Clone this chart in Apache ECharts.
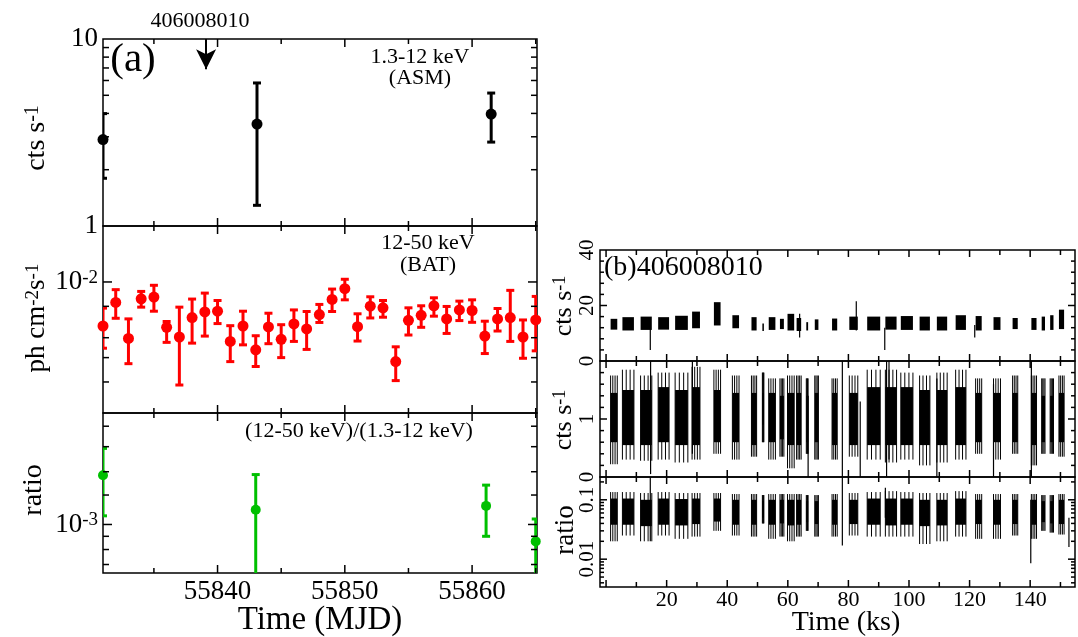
<!DOCTYPE html>
<html>
<head>
<meta charset="utf-8">
<script src="https://cdn.jsdelivr.net/npm/echarts/dist/echarts.min.js"></script>
<style>
  html, body { margin: 0; background: #fff; }
  #chart { width: 1078px; height: 637px; }
</style>
</head>
<body>
<div id="chart"></div>
<script>
// ---------- panel (a): long-term light curves ----------
const asmMjd  = [55831.0, 55843.1, 55861.5];
const asmRate = [2.90, 3.51, 3.97];
const asmLow  = [1.80, 1.29, 2.81];
const asmHigh = [3.99, 5.82, 5.14];

const batMjd  = [55831, 55832, 55833, 55834, 55835, 55836, 55837, 55838, 55839, 55840,
                 55841, 55842, 55843, 55844, 55845, 55846, 55847, 55848, 55849, 55850,
                 55851, 55852, 55853, 55854, 55855, 55856, 55857, 55858, 55859, 55860,
                 55861, 55862, 55863, 55864, 55865];
const batFlux = [0.00668, 0.00829, 0.00596, 0.00857, 0.00871, 0.00660, 0.00604, 0.00722, 0.00760, 0.00765,
                 0.00580, 0.00668, 0.00537, 0.00662, 0.00591, 0.00681, 0.00650, 0.00742, 0.00852, 0.00940,
                 0.00664, 0.00801, 0.00789, 0.00482, 0.00704, 0.00737, 0.00804, 0.00713, 0.00774, 0.00770,
                 0.00609, 0.00713, 0.00722, 0.00604, 0.00706];
const batHigh = [0.00787, 0.00932, 0.00713, 0.00917, 0.00970, 0.00696, 0.00794, 0.00855, 0.00903, 0.00844,
                 0.00670, 0.00765, 0.00611, 0.00751, 0.00676, 0.00774, 0.00763, 0.00814, 0.00937, 0.01025,
                 0.00747, 0.00873, 0.00844, 0.00552, 0.00789, 0.00804, 0.00865, 0.00799, 0.00839, 0.00849,
                 0.00698, 0.00784, 0.00926, 0.00706, 0.00876];
const batLow  = [0.00545, 0.00717, 0.00473, 0.00794, 0.00765, 0.00575, 0.00389, 0.00571, 0.00609, 0.00683,
                 0.00482, 0.00562, 0.00461, 0.00568, 0.00500, 0.00580, 0.00539, 0.00690, 0.00763, 0.00849,
                 0.00582, 0.00719, 0.00724, 0.00405, 0.00615, 0.00660, 0.00731, 0.00624, 0.00702, 0.00691,
                 0.00519, 0.00638, 0.00580, 0.00497, 0.00532];

const ratioMjd  = [55831.0, 55843.0, 55861.1, 55865.0];
const ratioVal  = [1.55e-3, 1.14e-3, 1.18e-3, 0.86e-3];
const ratioLow  = [1.08e-3, 0.40e-3, 0.90e-3, 0.40e-3];
const ratioHigh = [1.97e-3, 1.56e-3, 1.42e-3, 1.05e-3];

// tick positions
const mjdMajor   = [55840, 55850, 55860];
const mjdMinor   = [55835, 55845, 55855, 55865];
const asmMinor   = [2, 3, 4, 5, 6, 7, 8, 9];
const batMajor   = [0.01];
const batMinor   = [0.004, 0.005, 0.006, 0.008];
const ratioMajor = [0.001];
const ratioMinor = [0.0007, 0.0008, 0.0009, 0.0013, 0.0016, 0.002, 0.0024];

// ---------- panel (b): 406008010 light curve (orbit segments, ks) ----------
const segStart = [1.5, 5.4, 11.4, 17.2, 22.8, 28.4, 35.6, 41.7, 48.0, 51.6, 53.7, 57.4, 59.9, 62.9, 66.1, 68.9,
                  74.6, 80.3, 86.2, 92.2, 97.3, 103.5, 109.2, 115.4, 122.0, 127.9, 134.2, 140.4, 143.8, 146.6, 149.5];
const segEnd   = [3.7, 9.2, 15.1, 20.8, 27.0, 31.0, 37.8, 43.9, 49.7, 52.1, 55.9, 58.7, 62.1, 64.4, 66.7, 70.1,
                  76.3, 83.1, 90.5, 95.9, 101.3, 106.9, 112.6, 118.8, 124.0, 130.2, 135.9, 142.1, 144.9, 147.7, 151.2];
const rateLo   = [11.3, 11.0, 11.2, 11.3, 11.2, 11.8, 12.8, 11.8, 11.0, 10.8, 11.2, 11.5, 11.0, 10.8, 11.0, 11.2,
                  11.0, 11.2, 11.0, 11.3, 11.2, 11.0, 11.0, 11.2, 11.0, 11.2, 11.5, 11.2, 11.0, 11.2, 11.5];
const rateHi   = [15.2, 15.8, 16.0, 15.8, 16.3, 17.8, 21.2, 16.5, 15.8, 13.5, 15.8, 15.2, 17.0, 15.5, 14.0, 15.0,
                  15.3, 16.0, 16.0, 16.0, 16.2, 16.0, 16.0, 16.5, 16.2, 15.8, 15.5, 15.5, 16.0, 16.5, 18.5];
const hardLo   = [0.60, 0.55, 0.55, 0.60, 0.55, 0.55, 0.60, 0.60, 0.55, 0.90, 0.60, 0.65, 0.55, 0.55, 0.60, 0.60,
                  0.55, 0.55, 0.55, 0.55, 0.55, 0.55, 0.55, 0.55, 0.60, 0.60, 0.60, 0.55, 0.60, 0.60, 0.60];
const hardHi   = [1.45, 1.50, 1.50, 1.55, 1.50, 1.55, 1.50, 1.45, 1.45, 1.45, 1.45, 1.40, 1.45, 1.45, 1.40, 1.45,
                  1.45, 1.45, 1.55, 1.55, 1.55, 1.50, 1.50, 1.55, 1.45, 1.45, 1.45, 1.45, 1.40, 1.40, 1.45];
const hardMin  = [0.22, 0.30, 0.28, 0.30, 0.25, 0.30, 0.40, 0.30, 0.35, 0.60, 0.30, 0.35, 0.15, 0.30, 0.40, 0.30,
                  0.30, 0.35, 0.30, 0.25, 0.30, 0.20, 0.25, 0.30, 0.40, 0.30, 0.40, 0.20, 0.40, 0.40, 0.35];
const hardMax  = [1.75, 1.85, 1.75, 1.80, 1.80, 1.90, 1.85, 1.75, 1.75, 1.80, 1.70, 1.70, 1.75, 1.75, 1.70, 1.75,
                  1.70, 1.75, 1.85, 1.85, 1.80, 1.75, 1.80, 1.85, 1.70, 1.70, 1.75, 1.75, 1.70, 1.70, 1.75];
const ratioBLo = [0.038, 0.038, 0.036, 0.038, 0.037, 0.039, 0.043, 0.038, 0.038, 0.050, 0.038, 0.040, 0.037, 0.038, 0.042, 0.039,
                  0.038, 0.039, 0.038, 0.037, 0.038, 0.036, 0.037, 0.038, 0.039, 0.038, 0.039, 0.038, 0.042, 0.040, 0.039];
const ratioBHi = [0.105, 0.105, 0.100, 0.105, 0.103, 0.105, 0.105, 0.100, 0.100, 0.095, 0.100, 0.100, 0.100, 0.100, 0.095, 0.095,
                  0.100, 0.100, 0.105, 0.105, 0.105, 0.100, 0.100, 0.105, 0.100, 0.100, 0.100, 0.100, 0.095, 0.095, 0.100];
const ratioBMin = [0.020, 0.025, 0.020, 0.025, 0.022, 0.024, 0.030, 0.025, 0.024, 0.040, 0.022, 0.024, 0.020, 0.024, 0.030, 0.024,
                   0.024, 0.025, 0.024, 0.024, 0.024, 0.018, 0.020, 0.024, 0.022, 0.022, 0.025, 0.022, 0.030, 0.028, 0.026];
const ratioBMax = [0.135, 0.135, 0.130, 0.135, 0.130, 0.130, 0.130, 0.125, 0.125, 0.120, 0.125, 0.125, 0.125, 0.125, 0.120, 0.120,
                   0.125, 0.130, 0.135, 0.140, 0.135, 0.130, 0.130, 0.140, 0.125, 0.125, 0.125, 0.125, 0.120, 0.120, 0.125];

const rateSpikes  = [[14.6, 4.0, 12.0], [63.9, 8.5, 17.0], [82.6, 11.0, 21.5], [92.0, 4.0, 12.0], [121.7, 8.5, 13.0]];
const hardSpikes  = [[14.7, 0.05, 2.0], [28.5, 0.40, 2.0], [66.7, 0.0, 1.4], [78.0, 0.0, 2.0], [83.9, 0.0, 1.3],
                     [92.6, 0.0, 2.0], [93.4, 0.3, 2.0], [109.2, 0.0, 1.7], [127.9, 0.0, 1.6], [140.4, 0.0, 2.0]];
const ratioSpikes = [[14.6, 0.020, 0.24], [78.0, 0.017, 0.24], [92.2, 0.050, 0.16], [140.2, 0.0085, 0.10], [152.8, 0.016, 0.05]];

const ksMajor     = [0, 20, 40, 60, 80, 100, 120, 140];
const ksMinor     = [10, 30, 50, 70, 90, 110, 130, 150];
const rateMajor   = [20];
const rateMinor   = [4, 8, 12, 16, 24, 28, 32, 36];
const hardMajor   = [1];
const hardMinor   = [0.2, 0.4, 0.6, 0.8, 1.2, 1.4, 1.6, 1.8];
const ratioBMajor = [0.01, 0.1];
const ratioBMinor = [0.004, 0.005, 0.006, 0.007, 0.008, 0.009, 0.02, 0.03, 0.04, 0.05, 0.06, 0.07, 0.08, 0.09, 0.2];

const FONT = 'Liberation Serif';

// ---------- helpers ----------
function isPow10(v) {
  const l = Math.log10(v);
  return Math.abs(l - Math.round(l)) < 1e-6;
}
function powLabel(v) {
  return isPow10(v) ? '{b|10}{s|' + Math.round(Math.log10(v)) + '}' : '';
}
const powRich = {
  b: { fontFamily: FONT, fontSize: 27, color: '#000', verticalAlign: 'bottom' },
  s: { fontFamily: FONT, fontSize: 19, color: '#000', verticalAlign: 'top' }
};

function errorBar(color, width, cap) {
  return function (params, api) {
    const top = api.coord([api.value(0), api.value(2)]);
    const bot = api.coord([api.value(0), api.value(1)]);
    const x = top[0];
    const st = { stroke: color, lineWidth: width };
    return {
      type: 'group',
      children: [
        { type: 'line', shape: { x1: x, y1: top[1], x2: x, y2: bot[1] }, style: st },
        { type: 'line', shape: { x1: x - cap, y1: top[1], x2: x + cap, y2: top[1] }, style: st },
        { type: 'line', shape: { x1: x - cap, y1: bot[1], x2: x + cap, y2: bot[1] }, style: st }
      ]
    };
  };
}

// inward ticks: data [value, axisMinOfOther, axisMaxOfOther]
function xTicks(len) {
  return function (params, api) {
    const b = api.coord([api.value(0), api.value(1)]);
    const t = api.coord([api.value(0), api.value(2)]);
    const st = { stroke: '#000', lineWidth: 1.5 };
    return { type: 'group', children: [
      { type: 'line', shape: { x1: b[0], y1: b[1], x2: b[0], y2: b[1] - len }, style: st },
      { type: 'line', shape: { x1: t[0], y1: t[1], x2: t[0], y2: t[1] + len }, style: st }
    ] };
  };
}
function yTicks(len) {
  return function (params, api) {
    const l = api.coord([api.value(1), api.value(0)]);
    const r = api.coord([api.value(2), api.value(0)]);
    const st = { stroke: '#000', lineWidth: 1.5 };
    return { type: 'group', children: [
      { type: 'line', shape: { x1: l[0], y1: l[1], x2: l[0] + len, y2: l[1] }, style: st },
      { type: 'line', shape: { x1: r[0], y1: r[1], x2: r[0] - len, y2: r[1] }, style: st }
    ] };
  };
}

function bandRect(params, api) {
  const a = api.coord([api.value(0), api.value(3)]);
  const b = api.coord([api.value(1), api.value(2)]);
  return {
    type: 'rect',
    shape: { x: a[0], y: a[1], width: Math.max(b[0] - a[0], 1.5), height: b[1] - a[1] },
    style: { fill: '#000' }
  };
}
// thin full-range strokes spread across each orbit segment
function bandWhisk(params, api) {
  const t0 = api.value(0), t1 = api.value(1), lo = api.value(2), hi = api.value(3);
  const st = { stroke: '#000', lineWidth: 1 };
  const kids = [];
  [0, 0.33, 0.67, 1].forEach(function (f) {
    const t = t0 + (t1 - t0) * f;
    const p = api.coord([t, hi]), q = api.coord([t, lo]);
    kids.push({ type: 'line', shape: { x1: p[0], y1: p[1], x2: q[0], y2: q[1] }, style: st });
  });
  return { type: 'group', children: kids };
}
function spike(params, api) {
  const p = api.coord([api.value(0), api.value(2)]);
  const q = api.coord([api.value(0), api.value(1)]);
  return { type: 'line', shape: { x1: p[0], y1: p[1], x2: q[0], y2: q[1] }, style: { stroke: '#000', lineWidth: 1.2 } };
}

// ---------- layout ----------
const grids = [
  { left: 103, top: 39,  width: 434, height: 187 },
  { left: 103, top: 226, width: 434, height: 187 },
  { left: 103, top: 413, width: 434, height: 160 },
  { left: 600, top: 250, width: 475, height: 111 },
  { left: 600, top: 361, width: 475, height: 116 },
  { left: 600, top: 477, width: 475, height: 110 }
].map(g => Object.assign({ show: true, borderColor: '#000', borderWidth: 1.5, containLabel: false }, g));

const mjdMin = 55831, mjdMax = 55865.1;
const ksMin = -2.0, ksMax = 154.8;
const axLine = { show: false, onZero: false };

const xAxes = [];
for (let i = 0; i < 6; i++) {
  const left = i < 3;
  const showLab = (i === 2 || i === 5);
  xAxes.push({
    type: 'value', gridIndex: i, position: 'bottom',
    min: left ? mjdMin : ksMin, max: left ? mjdMax : ksMax,
    splitNumber: left ? 3 : 8,
    axisLine: axLine, axisTick: { show: false }, splitLine: { show: false },
    axisLabel: {
      show: showLab,
      fontFamily: FONT, fontSize: left ? 27 : 22, color: '#000', margin: left ? 5 : 2,
      showMinLabel: true, showMaxLabel: true,
      formatter: function (v) {
        if (left) return (Math.abs(v % 10) < 1e-6) ? String(v) : '';
        return (v > 0 && Math.abs(v % 20) < 1e-6) ? String(v) : '';
      }
    }
  });
}

function logY(i, min, max, labelFmt, rich, size, rotate) {
  return {
    type: 'log', logBase: 10, gridIndex: i, position: 'left', min: min, max: max,
    axisLine: axLine, axisTick: { show: false }, splitLine: { show: false },
    axisLabel: {
      fontFamily: FONT, fontSize: size, color: '#000', margin: rotate ? 2 : 5, rotate: rotate,
      showMinLabel: true, showMaxLabel: true, formatter: labelFmt, rich: rich
    }
  };
}
function linY(i, min, max, interval, fmt) {
  return {
    type: 'value', gridIndex: i, position: 'left', min: min, max: max, interval: interval,
    axisLine: axLine, axisTick: { show: false }, splitLine: { show: false },
    axisLabel: {
      fontFamily: FONT, fontSize: 21, color: '#000', margin: 2, rotate: 90,
      showMinLabel: true, showMaxLabel: true, formatter: fmt
    }
  };
}

const plainPow = v => isPow10(v) ? String(Math.round(v)) : '';
const decPow = v => isPow10(v) ? String(Number(v.toPrecision(3))) : '';

const yLim = [[1, 10], [0.00301, 0.0167], [6.49e-4, 2.70e-3], [0, 40], [0, 2], [0.0034, 0.242]];
const xLim = [[mjdMin, mjdMax], [mjdMin, mjdMax], [mjdMin, mjdMax], [ksMin, ksMax], [ksMin, ksMax], [ksMin, ksMax]];

const yAxes = [
  logY(0, yLim[0][0], yLim[0][1], plainPow, null, 27, 0),
  logY(1, yLim[1][0], yLim[1][1], powLabel, powRich, 27, 0),
  logY(2, yLim[2][0], yLim[2][1], powLabel, powRich, 27, 0),
  linY(3, yLim[3][0], yLim[3][1], 20, v => String(v)),
  linY(4, yLim[4][0], yLim[4][1], 1, v => v === 2 ? '' : String(v)),
  logY(5, yLim[5][0], yLim[5][1], decPow, null, 21, 90)
];

const zip3 = (a, b, c) => a.map((v, i) => [v, b[i], c[i]]);
const seg = (lo, hi) => segStart.map((t, i) => [t, segEnd[i], lo[i], hi[i]]);

function xTickSeries(i, vals, len) {
  return { type: 'custom', xAxisIndex: i, yAxisIndex: i, silent: true, z: 5,
           encode: { x: 0, y: [1, 2] },
           renderItem: xTicks(len), data: vals.map(v => [v, yLim[i][0], yLim[i][1]]) };
}
function yTickSeries(i, vals, len) {
  return { type: 'custom', xAxisIndex: i, yAxisIndex: i, silent: true, z: 5,
           encode: { y: 0, x: [1, 2] },
           renderItem: yTicks(len), data: vals.map(v => [v, xLim[i][0], xLim[i][1]]) };
}

const series = [
  // ASM
  { type: 'custom', xAxisIndex: 0, yAxisIndex: 0, clip: true, renderItem: errorBar('#000', 3, 4),
    encode: { x: 0, y: [1, 2] }, data: zip3(asmMjd, asmLow, asmHigh), z: 3 },
  { type: 'scatter', xAxisIndex: 0, yAxisIndex: 0, symbolSize: 11, itemStyle: { color: '#000', opacity: 1 },
    data: asmMjd.map((t, i) => [t, asmRate[i]]), z: 4,
    markLine: {
      silent: true, symbol: ['none', 'arrow'], symbolSize: [15, 20],
      lineStyle: { color: '#000', width: 2, type: 'solid', opacity: 1 }, label: { show: false },
      data: [[{ coord: [55839.1, 10] }, { coord: [55839.1, 6.9] }]]
    } },
  // BAT
  { type: 'custom', xAxisIndex: 1, yAxisIndex: 1, clip: true, renderItem: errorBar('#ff0000', 3, 4),
    encode: { x: 0, y: [1, 2] }, data: zip3(batMjd, batLow, batHigh), z: 3 },
  { type: 'scatter', xAxisIndex: 1, yAxisIndex: 1, symbolSize: 11, itemStyle: { color: '#ff0000', opacity: 1 },
    data: batMjd.map((t, i) => [t, batFlux[i]]), z: 4 },
  // ratio
  { type: 'custom', xAxisIndex: 2, yAxisIndex: 2, clip: true, renderItem: errorBar('#00c000', 3, 4),
    encode: { x: 0, y: [1, 2] }, data: zip3(ratioMjd, ratioLow, ratioHigh), z: 3 },
  { type: 'scatter', xAxisIndex: 2, yAxisIndex: 2, symbolSize: 10, itemStyle: { color: '#00c000', opacity: 1 },
    data: ratioMjd.map((t, i) => [t, ratioVal[i]]), z: 4 },
  // (b) count rate
  { type: 'custom', xAxisIndex: 3, yAxisIndex: 3, renderItem: bandRect, data: seg(rateLo, rateHi) },
  { type: 'custom', xAxisIndex: 3, yAxisIndex: 3, renderItem: spike, data: rateSpikes },
  // (b) hard band
  { type: 'custom', xAxisIndex: 4, yAxisIndex: 4, renderItem: bandRect, data: seg(hardLo, hardHi) },
  { type: 'custom', xAxisIndex: 4, yAxisIndex: 4, renderItem: bandWhisk, data: seg(hardMin, hardMax) },
  { type: 'custom', xAxisIndex: 4, yAxisIndex: 4, renderItem: spike, data: hardSpikes },
  // (b) ratio
  { type: 'custom', xAxisIndex: 5, yAxisIndex: 5, renderItem: bandRect, data: seg(ratioBLo, ratioBHi) },
  { type: 'custom', xAxisIndex: 5, yAxisIndex: 5, renderItem: bandWhisk, data: seg(ratioBMin, ratioBMax) },
  { type: 'custom', xAxisIndex: 5, yAxisIndex: 5, clip: true, renderItem: spike, data: ratioSpikes },
  // ticks
  xTickSeries(0, mjdMajor, 8), xTickSeries(0, mjdMinor, 5),
  xTickSeries(1, mjdMajor, 8), xTickSeries(1, mjdMinor, 5),
  xTickSeries(2, mjdMajor, 8), xTickSeries(2, mjdMinor, 5),
  yTickSeries(0, asmMinor, 6),
  yTickSeries(1, batMajor, 9), yTickSeries(1, batMinor, 6),
  yTickSeries(2, ratioMajor, 9), yTickSeries(2, ratioMinor, 6),
  xTickSeries(3, ksMajor, 7), xTickSeries(3, ksMinor, 5),
  xTickSeries(4, ksMajor, 7), xTickSeries(4, ksMinor, 5),
  xTickSeries(5, ksMajor, 7), xTickSeries(5, ksMinor, 5),
  yTickSeries(3, rateMajor, 7), yTickSeries(3, rateMinor, 4),
  yTickSeries(4, hardMajor, 7), yTickSeries(4, hardMinor, 4),
  yTickSeries(5, ratioBMajor, 7), yTickSeries(5, ratioBMinor, 4)
];

function txt(x, y, text, size, align) {
  return {
    type: 'text', x: x, y: y,
    style: { text: text, fontFamily: FONT, fontSize: size, fill: '#000', align: align || 'center', verticalAlign: 'middle' }
  };
}
const supRich = (size) => ({
  b: { fontFamily: FONT, fontSize: size, color: '#000', verticalAlign: 'bottom' },
  s: { fontFamily: FONT, fontSize: Math.round(size * 0.7), color: '#000', verticalAlign: 'top' }
});
function rotTxt(x, y, text, size) {
  return {
    type: 'text', x: x, y: y, rotation: Math.PI / 2,
    style: { text: text, rich: supRich(size), fontFamily: FONT, fontSize: size, fill: '#000',
             align: 'center', verticalAlign: 'middle' }
  };
}

const graphics = [
  txt(200, 21, '406008010', 22),
  txt(133, 60, '(a)', 41),
  txt(420, 57, '1.3-12 keV', 22),
  txt(420, 78, '(ASM)', 22),
  txt(428, 243, '12-50 keV', 22),
  txt(428, 265, '(BAT)', 22),
  txt(359, 431, '(12-50 keV)/(1.3-12 keV)', 22),
  txt(320, 620, 'Time (MJD)', 33),
  txt(604, 268, '(b)406008010', 28, 'left'),
  txt(846, 623, 'Time (ks)', 28),
  rotTxt(37, 138, '{b|cts s}{s|-1}', 28),
  rotTxt(37, 318, '{b|ph cm}{s|-2}{b|s}{s|-1}', 27),
  rotTxt(34, 490, '{b|ratio}', 28),
  rotTxt(564, 306, '{b|cts s}{s|-1}', 26),
  rotTxt(564, 420, '{b|cts s}{s|-1}', 26),
  rotTxt(566, 530, '{b|ratio}', 27)
];

const chart = echarts.init(document.getElementById('chart'));
chart.setOption({
  animation: false,
  backgroundColor: '#fff',
  grid: grids,
  xAxis: xAxes,
  yAxis: yAxes,
  series: series,
  graphic: graphics
});
</script>
</body>
</html>
